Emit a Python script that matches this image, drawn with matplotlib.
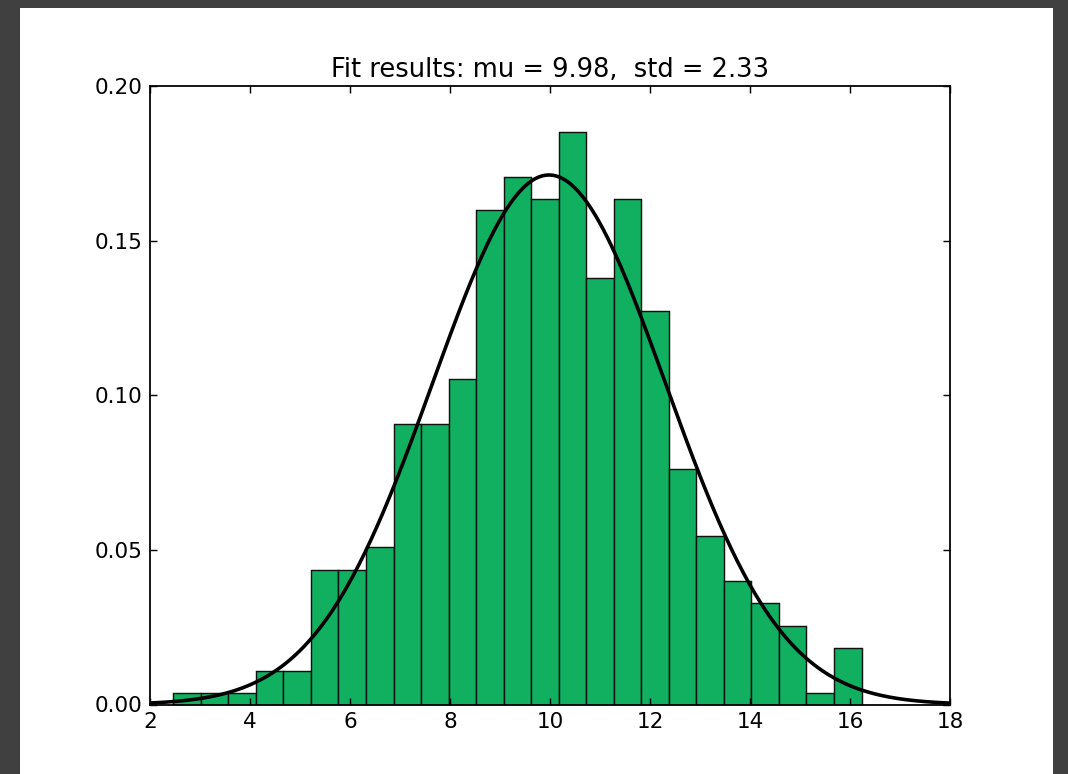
import matplotlib
matplotlib.use("Agg")
import matplotlib.pyplot as plt
import numpy as np
from matplotlib.patches import Rectangle

# histogram (density, 25 bins)
bin_start = 2.466
bin_width = 0.5506
densities = [0.0036, 0.0036, 0.0036, 0.0109, 0.0109, 0.0436, 0.0436, 0.0508,
             0.0908, 0.0908, 0.1053, 0.1598, 0.1707, 0.1634, 0.1852, 0.1380,
             0.1634, 0.1271, 0.0763, 0.0545, 0.0400, 0.0327, 0.0254, 0.0036,
             0.0182]

mu, std = 9.98, 2.33
x_ticks = [2, 4, 6, 8, 10, 12, 14, 16, 18]
y_ticks = [0.00, 0.05, 0.10, 0.15, 0.20]

W, H, DPI = 1068, 774, 129
fig = plt.figure(figsize=(W / DPI, H / DPI), dpi=DPI, facecolor="#404040")
# white canvas inside the dark frame
fig.patches.append(Rectangle((20 / W, 0), 1033 / W, 766 / H,
                             transform=fig.transFigure, facecolor="white",
                             edgecolor="none", zorder=-10))

ax = fig.add_axes([150 / W, (H - 704.5) / H, 800 / W, 618.5 / H])

lefts = bin_start + bin_width * np.arange(len(densities))
ax.bar(lefts, densities, width=bin_width, align="edge",
       color="#10b060", edgecolor="#111111", linewidth=0.8)

xs = np.linspace(2, 18, 400)
pdf = np.exp(-0.5 * ((xs - mu) / std) ** 2) / (std * np.sqrt(2 * np.pi))
ax.plot(xs, pdf, color="black", linewidth=2.0)

ax.set_xlim(2, 18)
ax.set_ylim(0, 0.20)
ax.set_xticks(x_ticks)
ax.set_yticks(y_ticks)
ax.set_yticklabels([f"{v:.2f}" for v in y_ticks])
ax.tick_params(direction="in", top=True, right=True, length=4, width=0.8,
               labelsize=12, pad=4)
for s in ax.spines.values():
    s.set_linewidth(1.0)

ax.set_title(f"Fit results: mu = {mu:.2f},  std = {std:.2f}", fontsize=14.4,
             pad=5)

fig.savefig("out.png", dpi=DPI, facecolor=fig.get_facecolor())
